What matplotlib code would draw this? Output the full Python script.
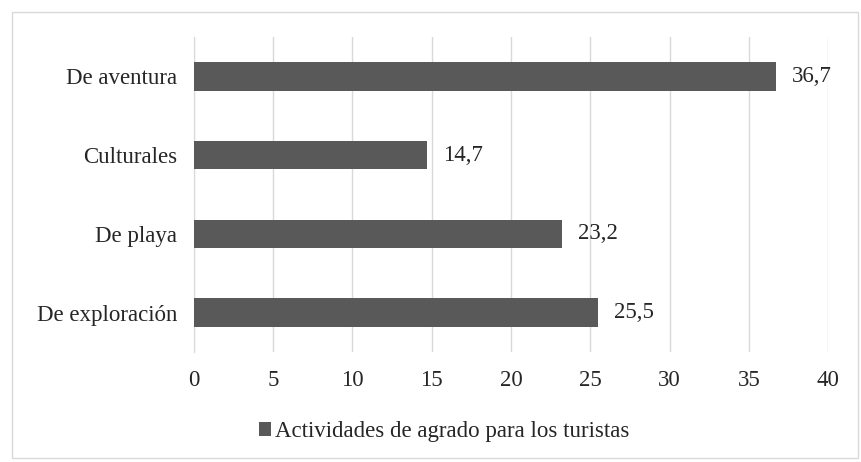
import matplotlib.pyplot as plt
from matplotlib.patches import Rectangle

categorias = ['De exploración', 'De playa', 'Culturales', 'De aventura']
valores = [25.5, 23.2, 14.7, 36.7]
ticks_x = [0, 5, 10, 15, 20, 25, 30, 35, 40]
serie = 'Actividades de agrado para los turistas'

plt.rcParams['font.family'] = ['Liberation Serif', 'DejaVu Serif']

fig = plt.figure(figsize=(8.62, 4.62), dpi=100)
ax = fig.add_axes([0.225, 0.238, 0.7356, 0.682])

barras = ax.barh(categorias, valores, height=0.36, color='#595959', label=serie, zorder=3)
for b, v in zip(barras, valores):
    ax.text(b.get_width() + 1, b.get_y() + b.get_height() / 2,
            f'{v:.1f}'.replace('.', ','), va='center', ha='left',
            fontsize=16.5, color='#262626')

ax.set_xlim(0, 40)
ax.set_ylim(-0.5, 3.5)
ax.set_xticks(ticks_x)
ax.grid(axis='x', color='#d9d9d9', linewidth=1, zorder=0)
for s in ['top', 'right', 'bottom']:
    ax.spines[s].set_visible(False)
ax.spines['left'].set_color('#d9d9d9')
ax.tick_params(axis='both', length=0, labelsize=16.5, colors='#262626')
ax.tick_params(axis='x', pad=13)
ax.tick_params(axis='y', pad=12)

fig.legend(loc='center', bbox_to_anchor=(0.515, 0.065), frameon=False,
           fontsize=16.5, handlelength=0.55, handleheight=0.55, handletextpad=0.15,
           labelcolor='#262626')

fig.patches.append(Rectangle((12 / 862, 4 / 462), 846 / 862, 446 / 462,
                             transform=fig.transFigure, fill=False,
                             edgecolor='#d9d9d9', linewidth=1))

fig.savefig('out.png', dpi=100)
